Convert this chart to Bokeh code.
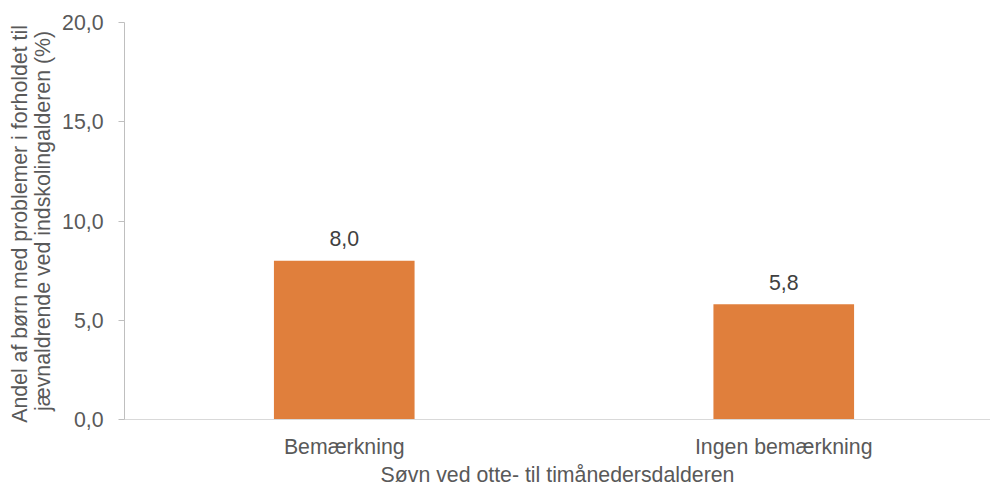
from bokeh.plotting import figure
from bokeh.models import (ColumnDataSource, LabelSet, FixedTicker, LinearAxis,
                          CustomJSTickFormatter, Range1d)
from bokeh.core.properties import value
from bokeh.embed import file_html
from bokeh.resources import INLINE

categories = ["Bemærkning", "Ingen bemærkning"]
values = [8.0, 5.8]
y_ticks = [0, 5, 10, 15, 20]
x_title = "Søvn ved otte- til timånedersdalderen"
y_title = ["Andel af børn med  problemer i forholdet til",
           "jævnaldrende ved indskolingalderen (%)"]

FONT = "Liberation Sans"
SIZE = "21.3px"
TEXT = "#595959"
BAR = "#E07F3C"

positions = list(range(len(categories)))
labels = [f"{v:.1f}".replace(".", ",") for v in values]
src = ColumnDataSource(dict(x=positions, top=values, label=labels))

p = figure(frame_width=866, frame_height=397, output_backend="svg", toolbar_location=None,
           x_range=Range1d(-0.5, 1.4704), y_range=Range1d(0, 20),
           min_border_left=124, min_border_right=0, min_border_top=22, min_border_bottom=68)
p.outline_line_color = None
p.grid.grid_line_color = None
p.background_fill_color = "white"
p.border_fill_color = "white"

p.vbar(x="x", top="top", width=0.32, bottom=0, source=src,
       fill_color=BAR, line_color=None)

# value labels above the bars
p.add_layout(LabelSet(x="x", y="top", text="label", source=src, y_offset=22,
                      text_align="center", text_baseline="middle",
                      text_font=value(FONT), text_font_size=SIZE,
                      text_color="#404040"))


def style_title(axis):
    axis.axis_label_text_font = FONT
    axis.axis_label_text_font_size = SIZE
    axis.axis_label_text_font_style = "normal"
    axis.axis_label_text_color = TEXT


# y axis with the second title line next to it
ya = p.yaxis[0]
ya.ticker = FixedTicker(ticks=y_ticks)
ya.formatter = CustomJSTickFormatter(code="return tick.toFixed(1).replace('.', ',');")
ya.axis_line_color = "#BFBFBF"
ya.major_tick_line_color = "#BFBFBF"
ya.major_tick_out = 6
ya.major_tick_in = 0
ya.minor_tick_line_color = None
ya.major_label_text_font = FONT
ya.major_label_text_font_size = SIZE
ya.major_label_text_color = TEXT
ya.major_label_standoff = 15
ya.axis_label = y_title[1]
ya.axis_label_standoff = 4
style_title(ya)

# bare outer axis carrying the first title line
ya2 = LinearAxis(ticker=FixedTicker(ticks=[]), axis_line_color=None,
                 major_tick_line_color=None, minor_tick_line_color=None,
                 major_tick_out=0, major_tick_in=0, major_label_standoff=0,
                 axis_label=y_title[0], axis_label_standoff=-3)
style_title(ya2)
p.add_layout(ya2, "left")

# x axis: category names and title, no tick marks
xa = p.xaxis[0]
xa.ticker = FixedTicker(ticks=positions)
xa.major_label_overrides = {i: c for i, c in zip(positions, categories)}
xa.axis_line_color = "#D9D9D9"
xa.major_tick_line_color = None
xa.minor_tick_line_color = None
xa.major_tick_out = 0
xa.major_tick_in = 0
xa.major_label_text_font = FONT
xa.major_label_text_font_size = SIZE
xa.major_label_text_color = TEXT
xa.major_label_standoff = 15
xa.axis_label = x_title
xa.axis_label_standoff = 1
style_title(xa)

open("out.html", "w").write(file_html(p, INLINE))
